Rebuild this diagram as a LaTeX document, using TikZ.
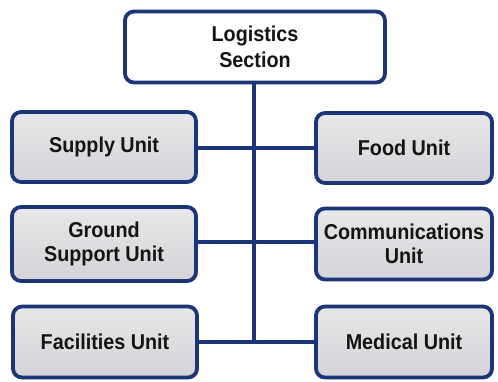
\documentclass[tikz,border=0pt]{standalone}
\usepackage{fontspec}
\setmainfont{Liberation Sans}[FakeStretch=0.92]
\usetikzlibrary{shadows}
\definecolor{navy}{RGB}{28,52,120}
\definecolor{boxgray}{RGB}{212,212,216}
\tikzset{
  unitbox/.style={draw=navy, line width=3.8pt, rounded corners=9pt,
    top color=boxgray!55, bottom color=boxgray, align=center,
    font=\fontsize{21.5}{24.5}\selectfont\bfseries, text=black!92,
    inner sep=0pt,
    drop shadow={opacity=0.35, shadow xshift=1.5pt, shadow yshift=-1.5pt}},
  headbox/.style={unitbox, top color=white, bottom color=white,
    font=\fontsize{21.5}{26}\selectfont\bfseries},
  link/.style={draw=navy, line width=3.8pt}
}
\begin{document}
\begin{tikzpicture}[x=1pt,y=-1pt]
\useasboundingbox (0,0) rectangle (498,382);
\fill[white] (0,0) rectangle (498,382);
% connectors first
\coordinate (top) at (254,84);
\coordinate (bot) at (254,342);
\draw[link] (top) -- (bot);
\coordinate (sL) at (150,148); \coordinate (sR) at (360,148);
\coordinate (gL) at (150,242); \coordinate (gR) at (360,242);
\coordinate (fL) at (150,342); \coordinate (fR) at (360,342);
\draw[link] (sL) -- (sR);
\draw[link] (gL) -- (gR);
\draw[link] (fL) -- (fR);
% boxes
\node[headbox, minimum width=260pt, minimum height=71pt] (log) at (255,47) {Logistics\\Section};
\node[unitbox, minimum width=184pt, minimum height=70pt] (supply) at (104,147) {Supply Unit};
\node[unitbox, minimum width=176pt, minimum height=70pt] (food) at (404,148) {Food Unit};
\node[unitbox, minimum width=184pt, minimum height=74pt] (ground) at (104,244) {Ground\\Support Unit};
\node[unitbox, minimum width=176pt, minimum height=71pt] (comm) at (404,244) {Communications\\Unit};
\node[unitbox, minimum width=184pt, minimum height=71pt] (fac) at (105,342) {Facilities Unit};
\node[unitbox, minimum width=176pt, minimum height=71pt] (med) at (404,342) {Medical Unit};
\end{tikzpicture}
\end{document}
